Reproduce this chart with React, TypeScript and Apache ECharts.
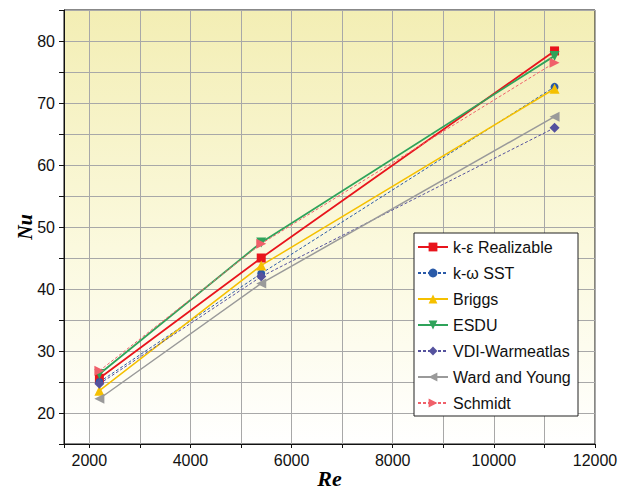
import React, { useEffect, useRef } from "react";
import * as echarts from "echarts";

const reValues = [2200, 5400, 11200];
const realizable = [25.6, 45.0, 78.4];
const sst = [25.0, 42.5, 72.6];
const briggs = [23.6, 43.8, 72.3];
const esdu = [26.3, 47.5, 77.6];
const vdi = [24.7, 42.0, 66.0];
const wardYoung = [22.3, 40.9, 67.8];
const schmidt = [26.8, 47.3, 76.5];

const seriesNames = [
  "k-ε Realizable",
  "k-ω SST",
  "Briggs",
  "ESDU",
  "VDI-Warmeatlas",
  "Ward and Young",
  "Schmidt",
];

const pair = (ys: number[]) => reValues.map((x, i) => [x, ys[i]]);

export default function App() {
  const ref = useRef<HTMLDivElement>(null);
  useEffect(() => {
    if (!ref.current) return;
    document.body.style.margin = "0";
    const chart = echarts.init(ref.current, null, { renderer: "svg" });
    const mk = (
      name: string,
      data: number[],
      color: string,
      symbol: string,
      size: number,
      rotate: number,
      dashed: boolean,
      width: number
    ) => ({
      name,
      type: "line",
      data: pair(data),
      symbol,
      symbolSize: size,
      symbolRotate: rotate,
      showAllSymbol: true,
      lineStyle: { color, width, type: dashed ? [3, 2] : "solid" },
      itemStyle: { color },
      z: 3,
    });
    chart.setOption({
      animation: false,
      backgroundColor: "#ffffff",
      grid: {
        left: 64,
        top: 10,
        right: 41,
        bottom: 46,
        outerBoundsMode: "none",
        containLabel: false,
        show: true,
        borderColor: "#111",
        borderWidth: 1,
        backgroundColor: {
          type: "linear",
          x: 0,
          y: 0,
          x2: 0,
          y2: 1,
          colorStops: [
            { offset: 0, color: "#f3eeb4" },
            { offset: 0.55, color: "#fbf9de" },
            { offset: 1, color: "#ffffff" },
          ],
        },
      },
      xAxis: {
        type: "value",
        min: 1500,
        max: 12000,
        splitNumber: 10,
        minInterval: 1000,
        maxInterval: 1000,
        name: "Re",
        nameLocation: "middle",
        nameGap: 23,
        nameMoveOverlap: false,
        nameTextStyle: {
          fontFamily: "Liberation Serif",
          fontStyle: "italic",
          fontWeight: "bold",
          fontSize: 22,
          lineHeight: 22,
          color: "#000",
        },
        axisLine: { lineStyle: { color: "#111", width: 1 } },
        axisTick: { show: true, length: 4, lineStyle: { color: "#111" } },
        axisLabel: {
          margin: 8,
          fontFamily: "Liberation Sans",
          fontSize: 16,
          color: "#111",
          formatter: (v: number) => (v % 2000 === 0 ? String(v) : ""),
        },
        splitLine: {
          show: true,
          showMinLine: false,
          lineStyle: { color: "#a8a8a8", width: 1 },
        },
      },
      yAxis: {
        type: "value",
        min: 15,
        max: 85,
        interval: 5,
        name: "Nu",
        nameLocation: "middle",
        nameGap: 29,
        nameMoveOverlap: false,
        nameTextStyle: {
          fontFamily: "Liberation Serif",
          fontStyle: "italic",
          fontWeight: "bold",
          fontSize: 20,
          color: "#000",
        },
        axisLine: { show: true, lineStyle: { color: "#111", width: 1 } },
        axisTick: { show: true, length: 5, lineStyle: { color: "#111" } },
        axisLabel: {
          margin: 9,
          fontFamily: "Liberation Sans",
          fontSize: 16,
          color: "#111",
          formatter: (v: number) => (v % 10 === 0 ? String(v) : ""),
        },
        splitLine: {
          show: true,
          lineStyle: { color: "#a8a8a8", width: 1 },
        },
      },
      legend: {
        orient: "vertical",
        left: 414,
        top: 233,
        backgroundColor: "#ffffff",
        borderColor: "#222",
        borderWidth: 1,
        borderRadius: 0,
        padding: [6, 7, 5, 3],
        itemWidth: 30,
        itemHeight: 11,
        itemGap: 10,
        textStyle: { fontFamily: "Liberation Sans", fontSize: 16, color: "#111" },
        data: seriesNames,
      },
      series: [
        mk(seriesNames[0], realizable, "#e8141c", "rect", 9, 0, false, 1.8),
        mk(seriesNames[1], sst, "#2a5aa8", "circle", 8, 0, true, 1),
        mk(seriesNames[2], briggs, "#f5c000", "triangle", 10, 0, false, 1.5),
        mk(seriesNames[3], esdu, "#2fa35a", "triangle", 10, 180, false, 1.8),
        mk(seriesNames[4], vdi, "#55529e", "diamond", 10, 0, true, 1),
        mk(seriesNames[5], wardYoung, "#9a9a9a", "triangle", 10, 90, false, 1.5),
        mk(seriesNames[6], schmidt, "#f0606a", "triangle", 10, -90, true, 1),
      ],
    });
    return () => chart.dispose();
  }, []);
  return <div ref={ref} style={{ width: 636, height: 490 }} />;
}
